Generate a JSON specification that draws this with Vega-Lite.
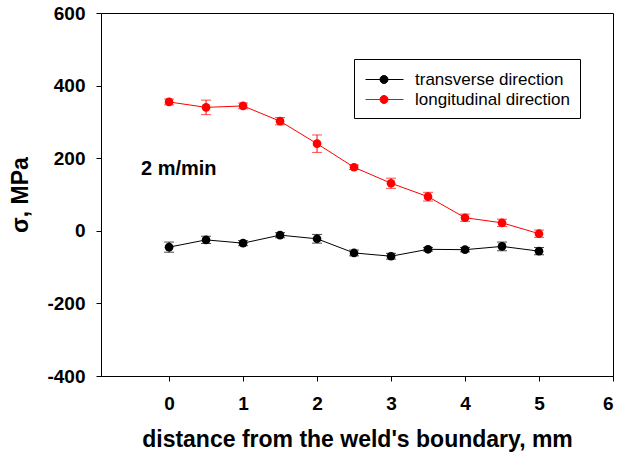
{
  "$schema": "https://vega.github.io/schema/vega-lite/v6.json",
  "width": 512,
  "height": 363,
  "autosize": {"type": "none"},
  "padding": {"left": 101, "top": 13, "right": 6, "bottom": 80},
  "background": "white",
  "config": {
    "font": "Liberation Sans",
    "view": {"stroke": "#000", "strokeWidth": 1},
    "axis": {
      "grid": false,
      "domainColor": "#000",
      "tickColor": "#000",
      "tickSize": 5,
      "labelFont": "Liberation Sans",
      "labelFontWeight": "bold",
      "labelFontSize": 19,
      "labelColor": "#000",
      "titleFont": "Liberation Sans",
      "titleFontWeight": "bold",
      "titleFontSize": 23,
      "titleColor": "#000"
    }
  },
  "datasets": {
    "main": [
      {"series": "transverse direction", "x": 0, "y": -45, "err": 14},
      {"series": "transverse direction", "x": 0.5, "y": -25, "err": 10},
      {"series": "transverse direction", "x": 1, "y": -34, "err": 7},
      {"series": "transverse direction", "x": 1.5, "y": -12, "err": 7},
      {"series": "transverse direction", "x": 2, "y": -22, "err": 12},
      {"series": "transverse direction", "x": 2.5, "y": -61, "err": 8},
      {"series": "transverse direction", "x": 3, "y": -70, "err": 8},
      {"series": "transverse direction", "x": 3.5, "y": -51, "err": 5},
      {"series": "transverse direction", "x": 4, "y": -52, "err": 6},
      {"series": "transverse direction", "x": 4.5, "y": -43, "err": 12},
      {"series": "transverse direction", "x": 5, "y": -56, "err": 10},
      {"series": "longitudinal direction", "x": 0, "y": 355, "err": 8},
      {"series": "longitudinal direction", "x": 0.5, "y": 340, "err": 20},
      {"series": "longitudinal direction", "x": 1, "y": 344, "err": 8},
      {"series": "longitudinal direction", "x": 1.5, "y": 302, "err": 10},
      {"series": "longitudinal direction", "x": 2, "y": 240, "err": 24},
      {"series": "longitudinal direction", "x": 2.5, "y": 175, "err": 6},
      {"series": "longitudinal direction", "x": 3, "y": 131, "err": 14},
      {"series": "longitudinal direction", "x": 3.5, "y": 94, "err": 12},
      {"series": "longitudinal direction", "x": 4, "y": 36, "err": 10},
      {"series": "longitudinal direction", "x": 4.5, "y": 22, "err": 10},
      {"series": "longitudinal direction", "x": 5, "y": -8, "err": 10}
    ],
    "note": [{"label": "2 m/min", "x": -0.38, "y": 170}]
  },
  "encoding": {
    "x": {
      "field": "x", "type": "quantitative",
      "scale": {"domain": [-0.92, 6], "nice": false, "zero": false},
      "axis": {"values": [0, 1, 2, 3, 4, 5, 6], "labelExpr": "datum.value + ''", "labelPadding": 13, "title": "distance from the weld's boundary, mm", "titlePadding": 15}
    },
    "y": {
      "field": "y", "type": "quantitative",
      "scale": {"domain": [-400, 600], "nice": false, "zero": false},
      "axis": {"values": [-400, -200, 0, 200, 400, 600], "labelExpr": "datum.value + ''", "labelPadding": 11, "title": "σ, MPa", "titlePadding": 14}
    }
  },
  "layer": [
    {
      "data": {"name": "main"},
      "mark": {"type": "errorbar", "ticks": {"size": 10}, "thickness": 1},
      "encoding": {
        "yError": {"field": "err"},
        "color": {"field": "series", "type": "nominal"}
      }
    },
    {
      "data": {"name": "main"},
      "mark": {"type": "line", "strokeWidth": 1},
      "encoding": {
        "color": {
          "field": "series", "type": "nominal",
          "scale": {"domain": ["transverse direction", "longitudinal direction"], "range": ["#000000", "#ff0000"]},
          "legend": {
            "title": null,
            "orient": "none",
            "legendX": 253,
            "legendY": 46,
            "strokeColor": "#000",
            "fillColor": "#fff",
            "padding": 10,
            "labelFont": "Liberation Sans",
            "labelFontSize": 17,
            "labelColor": "#000",
            "labelOffset": 30,
            "symbolType": "M-0.9,0H2.9M0.55,0A0.4,0.4,0,1,0,1.35,0A0.4,0.4,0,1,0,0.55,0Z",
            "symbolSize": 400,
            "symbolStrokeWidth": 1,
            "rowPadding": 1,
            "encode": {
              "symbols": {
                "update": {
                  "fill": {"scale": "color", "field": "value"},
                  "stroke": {"scale": "color", "field": "value"},
                  "fillOpacity": {"value": 1},
                  "opacity": {"value": 1}
                }
              }
            }
          }
        }
      }
    },
    {
      "data": {"name": "main"},
      "mark": {"type": "point", "filled": true, "size": 75, "opacity": 1},
      "encoding": {
        "color": {"field": "series", "type": "nominal"}
      }
    },
    {
      "data": {"name": "note"},
      "mark": {"type": "text", "align": "left", "baseline": "middle", "fontWeight": "bold", "fontSize": 20, "font": "Liberation Sans", "color": "#000"},
      "encoding": {
        "text": {"field": "label"}
      }
    }
  ]
}
